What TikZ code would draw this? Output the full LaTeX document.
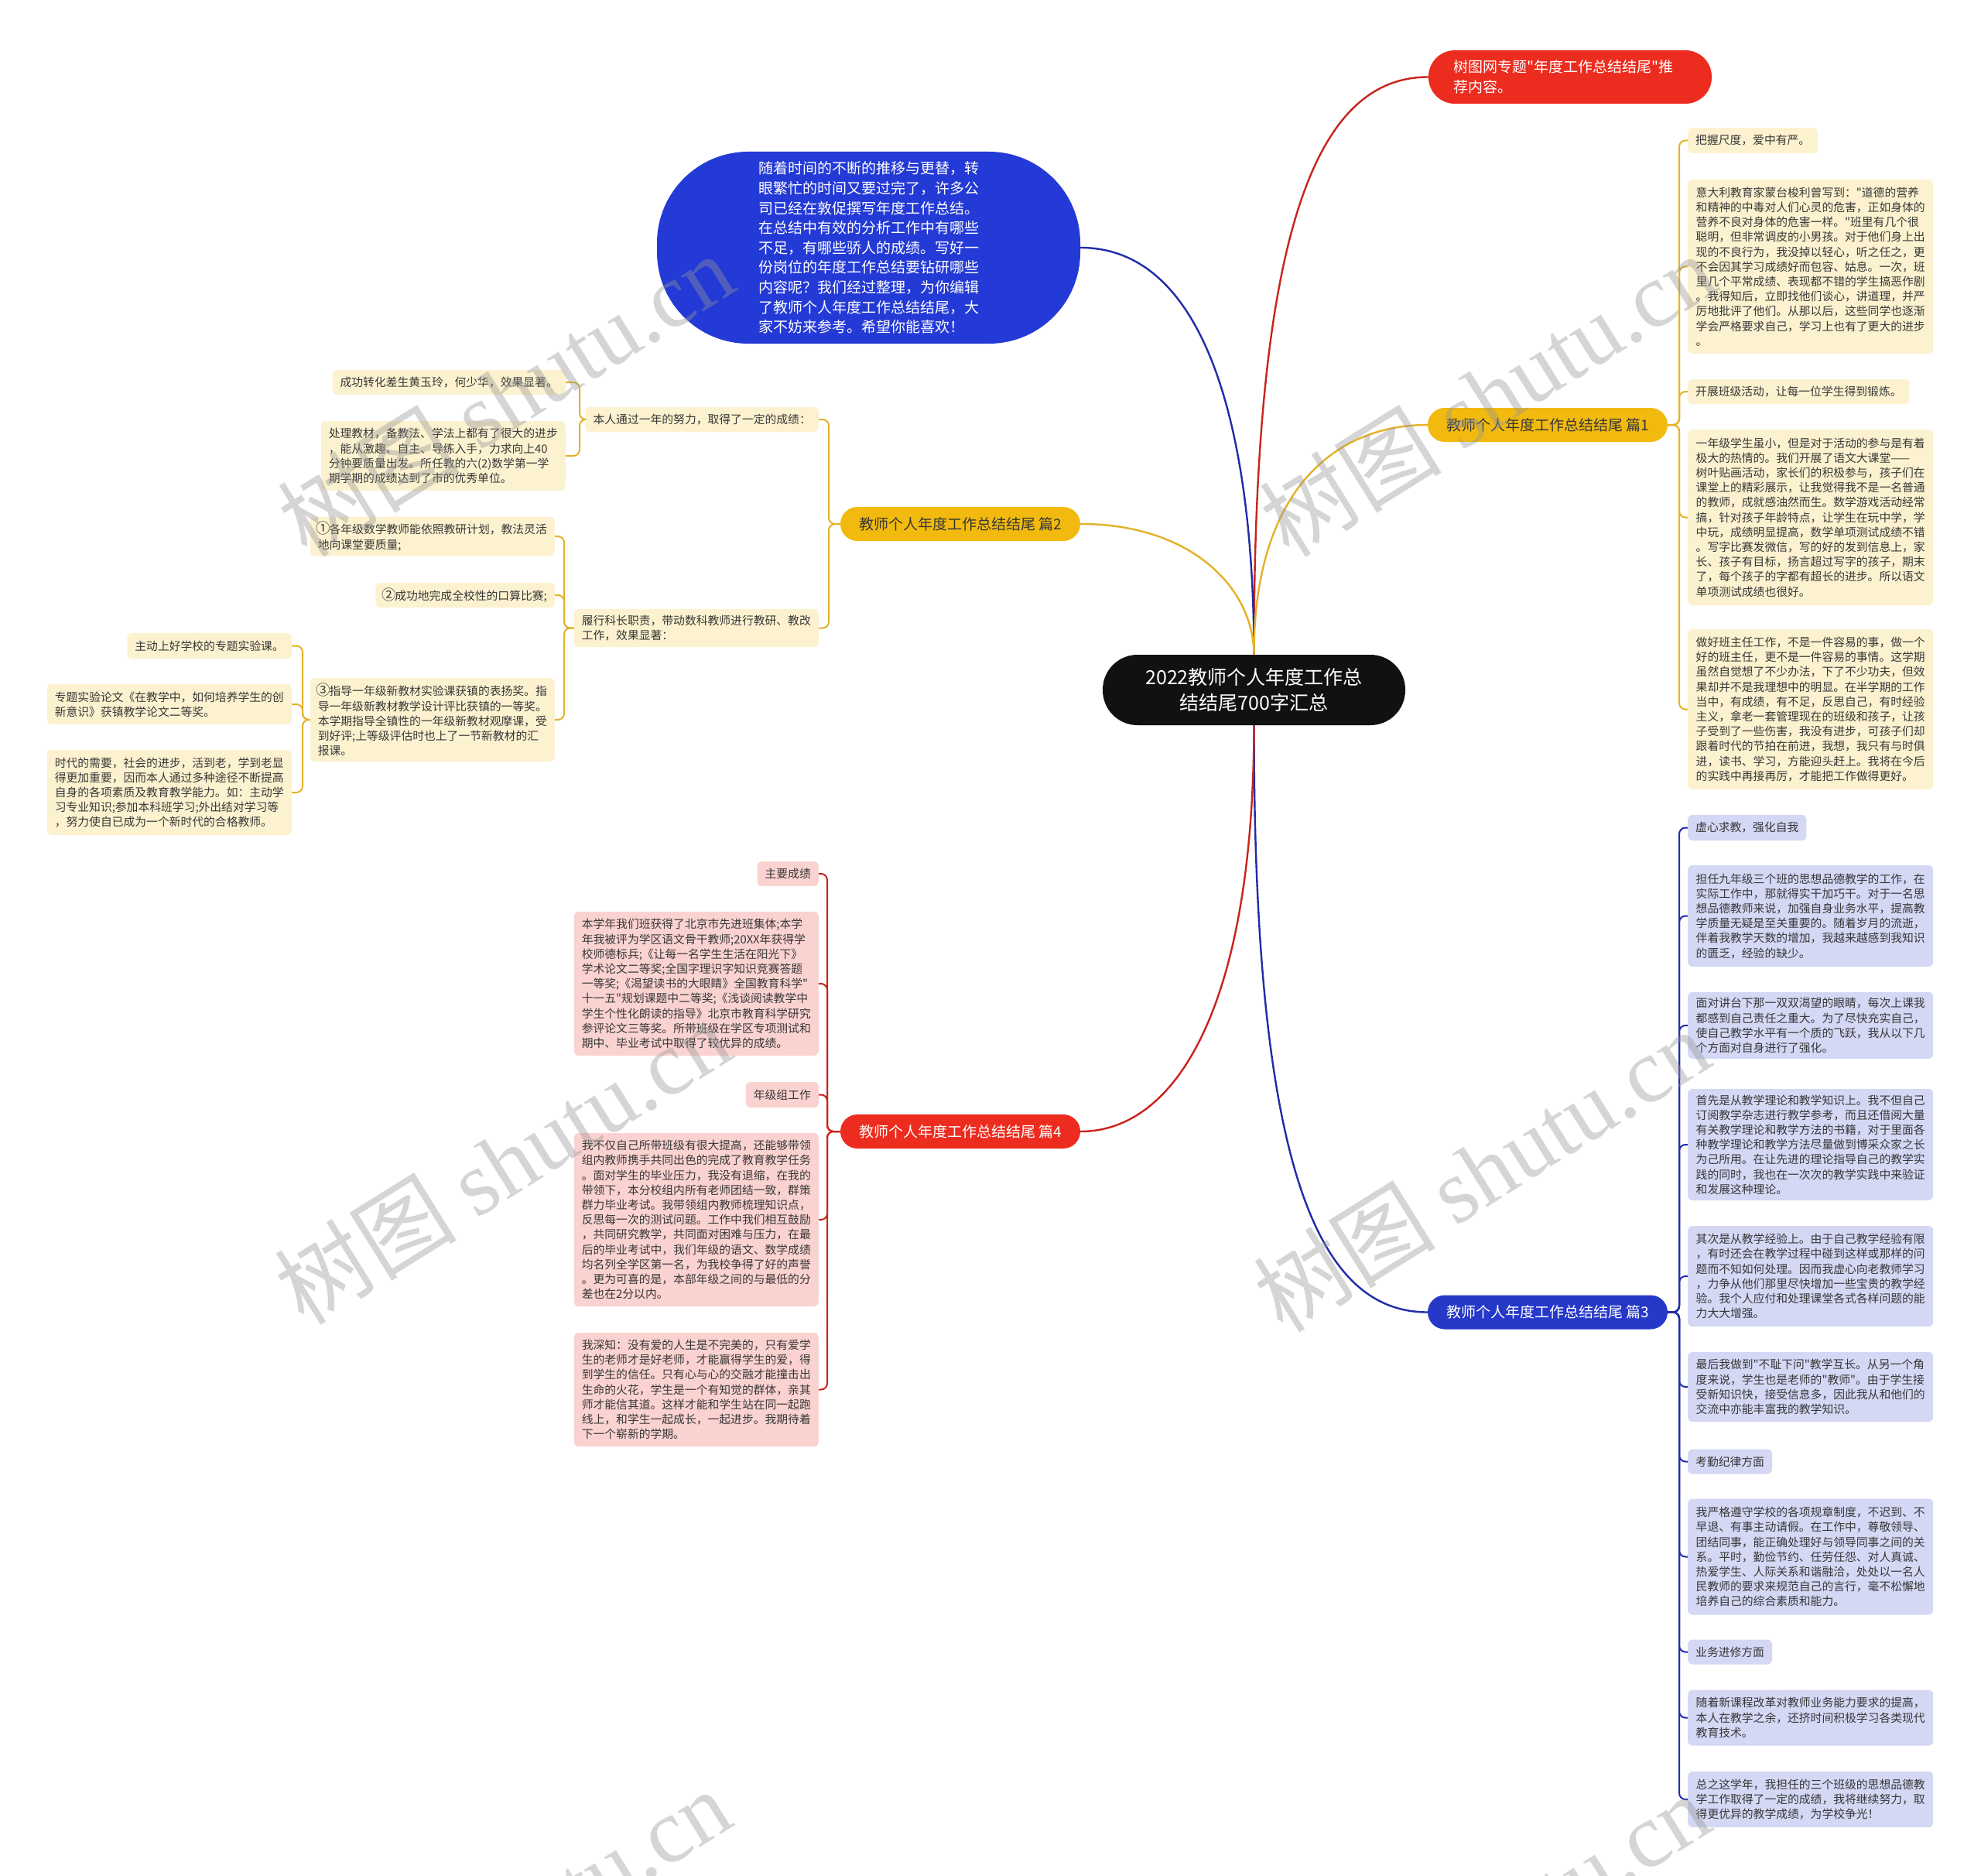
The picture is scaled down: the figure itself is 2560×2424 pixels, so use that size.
\documentclass[tikz,border=0pt]{standalone}
\usepackage{fontspec}
\setmainfont{Noto Sans CJK SC}[Ligatures=TeXOff]
\newfontfamily\wmcjk{Noto Sans CJK SC}
\newfontfamily\wmlat{Liberation Serif}
\definecolor{cR}{RGB}{236,44,30}
\definecolor{cBub}{RGB}{36,58,214}
\definecolor{cB}{RGB}{38,56,200}
\definecolor{cY}{RGB}{242,186,14}
\definecolor{lfY}{RGB}{253,242,208}
\definecolor{lfB}{RGB}{212,216,245}
\definecolor{lfR}{RGB}{250,211,209}
\definecolor{lnY}{RGB}{228,178,40}
\definecolor{lnB}{RGB}{32,44,168}
\definecolor{lnR}{RGB}{200,36,28}
\definecolor{txt}{RGB}{55,55,55}
\definecolor{ctr}{RGB}{17,17,17}
\definecolor{wmc}{RGB}{150,150,150}
\newcommand\mmbrR[4]{\draw[#4] (#1.east) -- (#1.east -| #3) -- (#2.west -| #3) -- (#2.west);}
\newcommand\mmbrL[4]{\draw[#4] (#1.west) -- (#1.west -| #3) -- (#2.east -| #3) -- (#2.east);}
\newcommand\fw[1]{\makebox[1em]{\scalebox{1.25}{#1}}}
\begin{document}
\begin{tikzpicture}[x=1pt,y=-1pt,
  leaf/.style={rounded corners=6pt, inner xsep=10pt, inner ysep=0pt, font=\fontsize{14.8pt}{19.2pt}\selectfont, align=left, text=txt},
  rleaf/.style={leaf, anchor=west},
  lleaf/.style={leaf, anchor=east},
  fy/.style={fill=lfY}, fb/.style={fill=lfB}, fr/.style={fill=lfR},
  wide/.style={minimum width=317pt},
  mh/.style={minimum height=#1pt},
  br/.style={rounded corners=22pt, minimum width=310pt, minimum height=44pt, inner sep=0pt, font=\fontsize{19pt}{23pt}\selectfont},
  brY/.style={br, fill=cY, text=txt},
  brB/.style={br, fill=cB, text=white},
  brR/.style={br, fill=cR, text=white},
  centerbox/.style={fill=ctr, text=white, rounded corners=45pt, minimum width=391pt, minimum height=91pt, inner sep=0pt, align=center, font=\fontsize{25pt}{33pt}\selectfont},
  redtop/.style={fill=cR, text=white, rounded corners=34pt, text width=302pt, inner xsep=32pt, inner ysep=0pt, minimum height=69pt, align=left, font=\fontsize{19pt}{26pt}\selectfont},
  bubble/.style={fill=cBub, text=white, rounded corners=118pt, minimum width=547pt, minimum height=248pt, inner sep=0pt, align=left, font=\fontsize{19pt}{25.6pt}\selectfont},
  cn/.style={line width=2pt, rounded corners=8pt},
  cnY/.style={cn, draw=lnY}, cnB/.style={cn, draw=lnB}, cnR/.style={cn, draw=lnR},
  mainc/.style={line width=2.4pt},
  mY/.style={mainc, draw=lnY}, mB/.style={mainc, draw=lnB}, mR/.style={mainc, draw=lnR},
  wm/.style={text=wmc, opacity=0.4, font=\fontsize{118pt}{118pt}\selectfont, inner sep=0pt, rotate=32}
]
\fill[white] (0,0) rectangle (2560,2424);
\useasboundingbox (0,0) rectangle (2560,2424);

% ---------- main nodes
\node[centerbox] (c) at (1620.5,891.5) {2022教师个人年度工作总\\结结尾700字汇总};
\node[redtop] (t) at (2029,99.5) {树图网专题"年度工作总结结尾"推\\荐内容。};
\node[bubble] (intro) at (1122.5,320) {随着时间的不断的推移与更替，转\\眼繁忙的时间又要过完了，许多公\\司已经在敦促撰写年度工作总结。\\在总结中有效的分析工作中有哪些\\不足，有哪些骄人的成绩。写好一\\份岗位的年度工作总结要钻研哪些\\内容呢？我们经过整理，为你编辑\\了教师个人年度工作总结结尾，大\\家不妨来参考。希望你能喜欢！};
\node[brY] (p1) at (2000,549) {教师个人年度工作总结结尾 篇1};
\node[brY] (p2) at (1241,677) {教师个人年度工作总结结尾 篇2};
\node[brB] (p3) at (2000,1695.5) {教师个人年度工作总结结尾 篇3};
\node[brR] (p4) at (1241,1462) {教师个人年度工作总结结尾 篇4};

% ---------- 篇1 leaves
\node[rleaf,fy,mh=33] (r1a) at (2181,181.5) {把握尺度，爱中有严。};
\node[rleaf,fy,wide,mh=225] (r1b) at (2181,344.5) {意大利教育家蒙台梭利曾写到："道德的营养\\和精神的中毒对人们心灵的危害，正如身体的\\营养不良对身体的危害一样。"班里有几个很\\聪明，但非常调皮的小男孩。对于他们身上出\\现的不良行为，我没掉以轻心，听之任之，更\\不会因其学习成绩好而包容、姑息。一次，班\\里几个平常成绩、表现都不错的学生搞恶作剧\\。我得知后，立即找他们谈心，讲道理，并严\\厉地批评了他们。从那以后，这些同学也逐渐\\学会严格要求自己，学习上也有了更大的进步\\。};
\node[rleaf,fy,mh=32] (r1c) at (2181,506) {开展班级活动，让每一位学生得到锻炼。};
\node[rleaf,fy,wide,mh=227] (r1d) at (2181,668.5) {一年级学生虽小，但是对于活动的参与是有着\\极大的热情的。我们开展了语文大课堂——\\树叶贴画活动，家长们的积极参与，孩子们在\\课堂上的精彩展示，让我觉得我不是一名普通\\的教师，成就感油然而生。数学游戏活动经常\\搞，针对孩子年龄特点，让学生在玩中学，学\\中玩，成绩明显提高，数学单项测试成绩不错\\。写字比赛发微信，写的好的发到信息上，家\\长、孩子有目标，扬言超过写字的孩子，期末\\了，每个孩子的字都有超长的进步。所以语文\\单项测试成绩也很好。};
\node[rleaf,fy,wide,mh=207] (r1e) at (2181,916.5) {做好班主任工作，不是一件容易的事，做一个\\好的班主任，更不是一件容易的事情。这学期\\虽然自觉想了不少办法，下了不少功夫，但效\\果却并不是我理想中的明显。在半学期的工作\\当中，有成绩，有不足，反思自己，有时经验\\主义，拿老一套管理现在的班级和孩子，让孩\\子受到了一些伤害，我没有进步，可孩子们却\\跟着时代的节拍在前进，我想，我只有与时俱\\进，读书、学习，方能迎头赶上。我将在今后\\的实践中再接再厉，才能把工作做得更好。};

% ---------- 篇3 leaves
\node[rleaf,fb,mh=33] (b1) at (2181,1069.5) {虚心求教，强化自我};
\node[rleaf,fb,wide,mh=131] (b2) at (2181,1183.5) {担任九年级三个班的思想品德教学的工作，在\\实际工作中，那就得实干加巧干。对于一名思\\想品德教师来说，加强自身业务水平，提高教\\学质量无疑是至关重要的。随着岁月的流逝，\\伴着我教学天数的增加，我越来越感到我知识\\的匮乏，经验的缺少。};
\node[rleaf,fb,wide,mh=86] (b3) at (2181,1325) {面对讲台下那一双双渴望的眼睛，每次上课我\\都感到自己责任之重大。为了尽快充实自己，\\使自己教学水平有一个质的飞跃，我从以下几\\个方面对自身进行了强化。};
\node[rleaf,fb,wide,mh=144] (b4) at (2181,1479) {首先是从教学理论和教学知识上。我不但自己\\订阅教学杂志进行教学参考，而且还借阅大量\\有关教学理论和教学方法的书籍，对于里面各\\种教学理论和教学方法尽量做到博采众家之长\\为己所用。在让先进的理论指导自己的教学实\\践的同时，我也在一次次的教学实践中来验证\\和发展这种理论。};
\node[rleaf,fb,wide,mh=130] (b5) at (2181,1649) {其次是从教学经验上。由于自己教学经验有限\\，有时还会在教学过程中碰到这样或那样的问\\题而不知如何处理。因而我虚心向老教师学习\\，力争从他们那里尽快增加一些宝贵的教学经\\验。我个人应付和处理课堂各式各样问题的能\\力大大增强。};
\node[rleaf,fb,wide,mh=90] (b6) at (2181,1792) {最后我做到"不耻下问"教学互长。从另一个角\\度来说，学生也是老师的"教师"。由于学生接\\受新知识快，接受信息多，因此我从和他们的\\交流中亦能丰富我的教学知识。};
\node[rleaf,fb,mh=32] (b7) at (2181,1888.5) {考勤纪律方面};
\node[rleaf,fb,wide,mh=150] (b8) at (2181,2011.5) {我严格遵守学校的各项规章制度，不迟到、不\\早退、有事主动请假。在工作中，尊敬领导、\\团结同事，能正确处理好与领导同事之间的关\\系。平时，勤俭节约、任劳任怨、对人真诚、\\热爱学生、人际关系和谐融洽，处处以一名人\\民教师的要求来规范自己的言行，毫不松懈地\\培养自己的综合素质和能力。};
\node[rleaf,fb,mh=32] (b9) at (2181,2134.5) {业务进修方面};
\node[rleaf,fb,wide,mh=72] (b10) at (2181,2219.5) {随着新课程改革对教师业务能力要求的提高，\\本人在教学之余，还挤时间积极学习各类现代\\教育技术。};
\node[rleaf,fb,wide,mh=72] (b11) at (2181,2325) {总之这学年，我担任的三个班级的思想品德教\\学工作取得了一定的成绩，我将继续努力，取\\得更优异的教学成绩，为学校争光！};

% ---------- 篇2 leaves
\node[lleaf,fy,mh=32] (la) at (1058,542) {本人通过一年的努力，取得了一定的成绩：};
\node[lleaf,fy,mh=49] (lb) at (1058,811.5) {履行科长职责，带动数科教师进行教研、教改\\工作，效果显著：};
\node[lleaf,fy,mh=32] (la1) at (731,494) {成功转化差生黄玉玲，何少华，效果显著。};
\node[lleaf,fy,mh=90] (la2) at (731,589) {处理教材，备教法、学法上都有了很大的进步\\，能从激趣、自主、导练入手，力求向上40\\分钟要质量出发。所任教的六(2)数学第一学\\期学期的成绩达到了市的优秀单位。};
\node[lleaf,fy,mh=51] (lb1) at (717,693) {\fw{①}各年级数学教师能依照教研计划，教法灵活\\地向课堂要质量;};
\node[lleaf,fy,mh=32] (lb2) at (717,769) {\fw{②}成功地完成全校性的口算比赛;};
\node[lleaf,fy,mh=108] (lb3) at (717,930) {\fw{③}指导一年级新教材实验课获镇的表扬奖。指\\导一年级新教材教学设计评比获镇的一等奖。\\本学期指导全镇性的一年级新教材观摩课，受\\到好评;上等级评估时也上了一节新教材的汇\\报课。};
\node[lleaf,fy,mh=33] (lc1) at (377,834.5) {主动上好学校的专题实验课。};
\node[lleaf,fy,mh=52] (lc2) at (377,910) {专题实验论文《在教学中，如何培养学生的创\\新意识》获镇教学论文二等奖。};
\node[lleaf,fy,mh=110] (lc3) at (377,1024) {时代的需要，社会的进步，活到老，学到老显\\得更加重要，因而本人通过多种途径不断提高\\自身的各项素质及教育教学能力。如：主动学\\习专业知识;参加本科班学习;外出结对学习等\\，努力使自已成为一个新时代的合格教师。};

% ---------- 篇4 leaves
\node[lleaf,fr,mh=32] (d1) at (1058,1129) {主要成绩};
\node[lleaf,fr,mh=186] (d2) at (1058,1271) {本学年我们班获得了北京市先进班集体;本学\\年我被评为学区语文骨干教师;20XX年获得学\\校师德标兵;《让每一名学生生活在阳光下》\\学术论文二等奖;全国字理识字知识竞赛答题\\一等奖;《渴望读书的大眼睛》全国教育科学"\\十一五"规划课题中二等奖;《浅谈阅读教学中\\学生个性化朗读的指导》北京市教育科学研究\\参评论文三等奖。所带班级在学区专项测试和\\期中、毕业考试中取得了较优异的成绩。};
\node[lleaf,fr,mh=33] (d3) at (1058,1414.5) {年级组工作};
\node[lleaf,fr,mh=224] (d4) at (1058,1576) {我不仅自己所带班级有很大提高，还能够带领\\组内教师携手共同出色的完成了教育教学任务\\。面对学生的毕业压力，我没有退缩，在我的\\带领下，本分校组内所有老师团结一致，群策\\群力毕业考试。我带领组内教师梳理知识点，\\反思每一次的测试问题。工作中我们相互鼓励\\，共同研究教学，共同面对困难与压力，在最\\后的毕业考试中，我们年级的语文、数学成绩\\均名列全学区第一名，为我校争得了好的声誉\\。更为可喜的是，本部年级之间的与最低的分\\差也在2分以内。};
\node[lleaf,fr,mh=147] (d5) at (1058,1795.5) {我深知：没有爱的人生是不完美的，只有爱学\\生的老师才是好老师，才能赢得学生的爱，得\\到学生的信任。只有心与心的交融才能撞击出\\生命的火花，学生是一个有知觉的群体，亲其\\师才能信其道。这样才能和学生站在同一起跑\\线上，和学生一起成长，一起进步。我期待着\\下一个崭新的学期。};

% ---------- main curves
\draw[mR] (c.north) .. controls (1620,300) and (1700,99.5) .. (t.west);
\draw[mB] (c.north) .. controls (1620,560) and (1560,320) .. (intro.east);
\draw[mY] (c.north) .. controls (1620,640) and (1720,549) .. (p1.west);
\draw[mY] (c.north) .. controls (1620,760) and (1540,677) .. (p2.east);
\draw[mB] (c.south) .. controls (1620,1500) and (1700,1695.5) .. (p3.west);
\draw[mR] (c.south) .. controls (1620,1300) and (1520,1462) .. (p4.east);

% ---------- bracket connectors
\coordinate (v1) at (2170,0);
\coordinate (v2) at (1071,0);
\coordinate (v2a) at (749,0);
\coordinate (v2b) at (729,0);
\coordinate (v2c) at (391,0);
\coordinate (v4) at (1069,0);
\foreach \k in {r1a,r1b,r1c,r1d,r1e} {\mmbrR{p1}{\k}{v1}{cnY}}
\foreach \k in {b1,b2,b3,b4,b5,b6,b7,b8,b9,b10,b11} {\mmbrR{p3}{\k}{v1}{cnB}}
\foreach \k in {la,lb} {\mmbrL{p2}{\k}{v2}{cnY}}
\foreach \k in {la1,la2} {\mmbrL{la}{\k}{v2a}{cnY}}
\foreach \k in {lb1,lb2,lb3} {\mmbrL{lb}{\k}{v2b}{cnY}}
\foreach \k in {lc1,lc2,lc3} {\mmbrL{lb3}{\k}{v2c}{cnY}}
\foreach \k in {d1,d2,d3,d4,d5} {\mmbrL{p4}{\k}{v4}{cnR}}

% ---------- watermarks
\begin{scope}
\clip (0,0) rectangle (2560,2424);
\node[wm] (wm1) at (653,510) {{\wmcjk 树图} {\wmlat shutu.cn}};
\node[wm] (wm2) at (1922,510) {{\wmcjk 树图} {\wmlat shutu.cn}};
\node[wm] (wm3) at (649,1502) {{\wmcjk 树图} {\wmlat shutu.cn}};
\node[wm] (wm4) at (1914,1512) {{\wmcjk 树图} {\wmlat shutu.cn}};
\node[wm] (wm5) at (649,2494) {{\wmcjk 树图} {\wmlat shutu.cn}};
\node[wm] (wm6) at (1914,2500) {{\wmcjk 树图} {\wmlat shutu.cn}};
\end{scope}
\end{tikzpicture}
\end{document}
